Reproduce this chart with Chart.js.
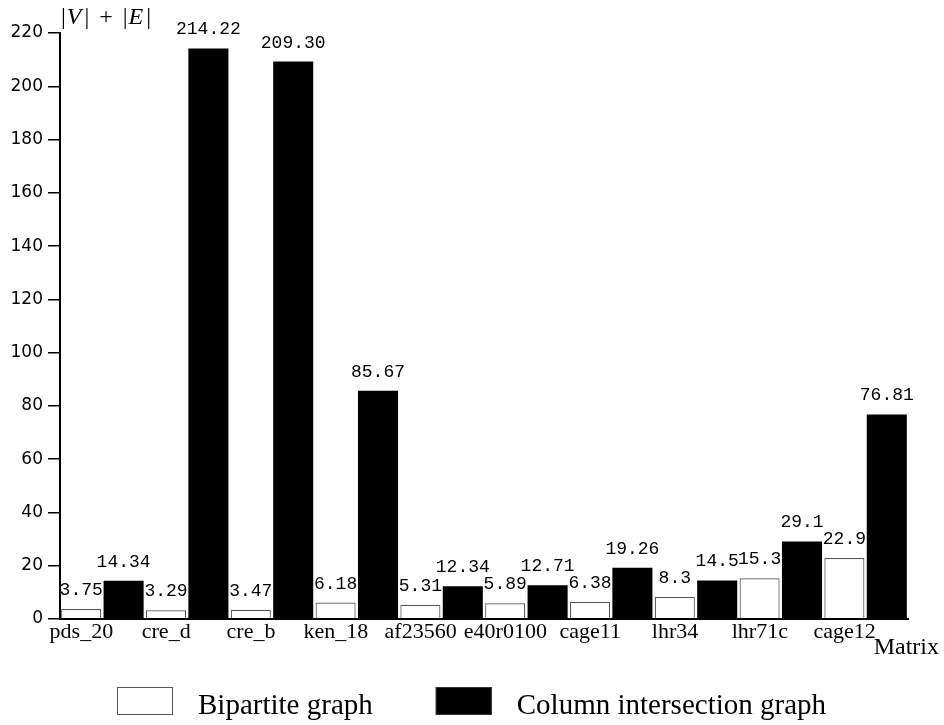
<!DOCTYPE html>
<html><head><meta charset="utf-8">
<script src="https://cdn.jsdelivr.net/npm/chart.js@4.4.0/dist/chart.umd.min.js"></script>
<style>html,body{margin:0;padding:0;background:#fff;}#wrap{width:944px;height:725px;}</style>
</head><body><div id="wrap"><canvas id="c" width="944" height="725"></canvas></div>
<script>
const categories = ['pds_20','cre_d','cre_b','ken_18','af23560','e40r0100','cage11','lhr34','lhr71c','cage12'];
const bipartite = [3.75, 3.29, 3.47, 6.18, 5.31, 5.89, 6.38, 8.3, 15.3, 22.9];
const columnIntersection = [14.34, 214.22, 209.30, 85.67, 12.34, 12.71, 19.26, 14.5, 29.1, 76.81];
const bipartiteLabels = ['3.75','3.29','3.47','6.18','5.31','5.89','6.38','8.3','15.3','22.9'];
const columnLabels = ['14.34','214.22','209.30','85.67','12.34','12.71','19.26','14.5','29.1','76.81'];
const yTicks = [0, 20, 40, 60, 80, 100, 120, 140, 160, 180, 200, 220];
const seriesNames = ['Bipartite graph', 'Column intersection graph'];
const xAxisTitle = 'Matrix';

const SERIF = '"Liberation Serif", "Times New Roman", serif';

const valueLabels = {
  id: 'valueLabels',
  afterDatasetsDraw(chart) {
    const ctx = chart.ctx;
    const lbls = [bipartiteLabels, columnLabels];
    ctx.save();
    ctx.font = '18px "Liberation Mono", monospace';
    ctx.fillStyle = '#000';
    ctx.textAlign = 'center';
    ctx.textBaseline = 'alphabetic';
    chart.data.datasets.forEach((ds, di) => {
      chart.getDatasetMeta(di).data.forEach((el, i) => {
        ctx.fillText(lbls[di][i], el.x, el.y - 14);
      });
    });
    ctx.restore();
  }
};

const extras = {
  id: 'extras',
  afterDraw(chart) {
    const ctx = chart.ctx;
    const area = chart.chartArea;
    ctx.save();
    ctx.fillStyle = '#000';
    // y-axis title |V| + |E|
    const parts = [['|', false, 1], ['V', true, 3], ['|', false, 10], ['+', false, 10], ['|', false, 1], ['E', true, 3], ['|', false, 0]];
    let x = area.left + 1;
    const yb = area.top - 9;
    ctx.textBaseline = 'alphabetic';
    ctx.textAlign = 'left';
    parts.forEach(([t, it, after]) => {
      ctx.font = (it ? 'italic ' : '') + '24px ' + SERIF;
      ctx.fillText(t, x, yb);
      x += ctx.measureText(t).width + after;
    });
    // x-axis title
    ctx.font = '24px ' + SERIF;
    ctx.textAlign = 'right';
    ctx.fillText(xAxisTitle, area.right + 31, area.bottom + 35);
    // legend
    ctx.font = '29px ' + SERIF;
    ctx.textAlign = 'left';
    const boxW = 56, boxH = 28, gap = 25, itemGap = 63;
    const w0 = ctx.measureText(seriesNames[0]).width;
    const w1 = ctx.measureText(seriesNames[1]).width;
    const total = boxW + gap + w0 + itemGap + boxW + gap + w1;
    let lx = Math.round(chart.width / 2 - total / 2);
    const by = 687;
    const fills = ['#fff', '#000'];
    const strokes = ['#555', '#333'];
    [w0, w1].forEach((w, i) => {
      ctx.fillStyle = fills[i];
      ctx.fillRect(lx, by, boxW, boxH);
      ctx.strokeStyle = strokes[i];
      ctx.lineWidth = 1;
      ctx.strokeRect(lx + 0.5, by + 0.5, boxW - 1, boxH - 1);
      ctx.fillStyle = '#000';
      ctx.fillText(seriesNames[i], lx + boxW + gap, by + boxH - 1);
      lx += boxW + gap + w + itemGap;
    });
    ctx.restore();
  }
};

new Chart(document.getElementById('c'), {
  type: 'bar',
  data: {
    labels: categories,
    datasets: [
      { label: seriesNames[0], data: bipartite, backgroundColor: '#fff', borderColor: '#555', borderWidth: 1.2, borderSkipped: 'bottom' },
      { label: seriesNames[1], data: columnIntersection, backgroundColor: '#000', borderColor: '#000', borderWidth: 0 }
    ]
  },
  options: {
    responsive: false,
    animation: false,
    devicePixelRatio: 1,
    layout: { padding: { top: 33, right: 36, left: 0, bottom: 0 } },
    datasets: { bar: { categoryPercentage: 1.0, barPercentage: 0.945 } },
    plugins: { legend: { display: false }, tooltip: { enabled: false } },
    scales: {
      x: {
        offset: true,
        grid: { display: false },
        border: { display: true, color: '#000', width: 2, z: 1 },
        ticks: {
          autoSkip: false, maxRotation: 0, minRotation: 0, padding: -8,
          labelOffset: -21,
          color: '#000',
          font: { family: SERIF, size: 22 }
        },
        afterFit(s) { s.height = 106; }
      },
      y: {
        min: 0, max: 220,
        afterBuildTicks(s) { s.ticks = yTicks.map(v => ({ value: v })); },
        grid: { display: true, drawOnChartArea: false, drawTicks: true, tickLength: 12, color: '#000', lineWidth: 1.5 },
        border: { display: true, color: '#000', width: 2, z: 1 },
        ticks: {
          padding: 5, color: '#000',
          font: { family: '"DejaVu Sans", sans-serif', size: 17 }
        },
        afterFit(s) { s.width = 60; }
      }
    }
  },
  plugins: [valueLabels, extras]
});
</script>
</body></html>
